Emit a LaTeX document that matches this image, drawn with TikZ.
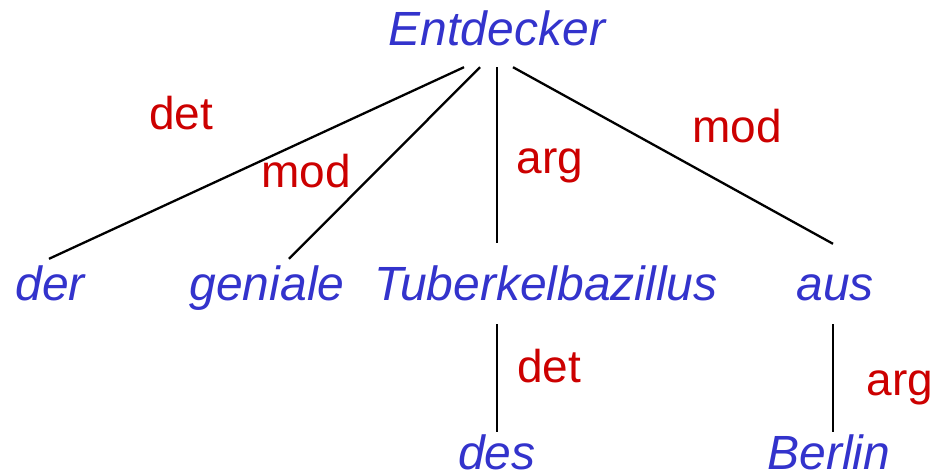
\documentclass[tikz,border=0pt]{standalone}
\usepackage{fontspec}
\setmainfont{Liberation Sans}
\definecolor{wordblue}{RGB}{51,51,204}
\definecolor{relred}{RGB}{204,0,0}
\tikzset{
  word/.style={anchor=base, inner sep=0pt, text height=34pt, text depth=0pt,
    text=wordblue, font=\fontsize{48}{58}\selectfont\itshape},
  rel/.style={anchor=base, inner sep=0pt, text=relred,
    font=\fontsize{46}{55}\selectfont},
  edge/.style={line width=2.3pt}
}
\begin{document}
\begin{tikzpicture}[x=1pt,y=-1pt]
\useasboundingbox (0,0) rectangle (940,475);
% words
\node[word] (ent) at (497,45) {Entdecker};
\node[word] (der) at (50,300) {der};
\node[word] (gen) at (267,300) {geniale};
\node[word] (tub) at (546,300) {Tuberkelbazillus};
\node[word] (aus) at (835,300) {aus};
\node[word] (des) at (497,469) {des};
\node[word] (ber) at (829,469) {Berlin};
% dependencies
\draw[edge] ([xshift=-33pt,yshift=-22pt]ent.south) -- ([xshift=-1pt,yshift=7pt]der.north);
\draw[edge] ([xshift=-17pt,yshift=-22pt]ent.south) -- ([xshift=22pt,yshift=7pt]gen.north);
\draw[edge] ([yshift=-22pt]ent.south) -- ([xshift=-49pt,yshift=23pt]tub.north);
\draw[edge] ([xshift=16pt,yshift=-22pt]ent.south) -- ([xshift=-2pt,yshift=22pt]aus.north);
\draw[edge] ([xshift=-49pt,yshift=-24pt]tub.south) -- ([yshift=3pt]des.north);
\draw[edge] ([xshift=-2pt,yshift=-24pt]aus.south) -- ([xshift=4pt,yshift=3pt]ber.north);
% relation labels
\node[rel] (det1) at (181,129) {det};
\node[rel] (mod1) at (306,187) {mod};
\node[rel] (arg1) at (550,173) {arg};
\node[rel] (mod2) at (737,142) {mod};
\node[rel] (det2) at (549,382) {det};
\node[rel] (arg2) at (900,395) {arg};
\end{tikzpicture}
\end{document}
